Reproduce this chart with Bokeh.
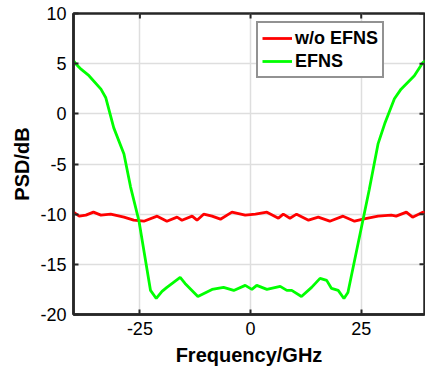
import math
from bokeh.plotting import figure
from bokeh.models import Legend, LegendItem, Range1d, FixedTicker
from bokeh.embed import file_html
from bokeh.resources import INLINE

# Data
freq_red = [-40, -38.7, -37.2, -35.5, -33.8, -31.6, -28.6, -26.4, -24.1, -21.1, -18.9,
            -16.6, -15.5, -13.2, -12.1, -10.6, -8.7, -6.8, -4.2, -1.2, 1.1, 3.7, 6.3,
            7.4, 8.9, 10.4, 13.1, 15.3, 17.9, 20.9, 23.5, 25.4, 28.8, 31.8, 32.9, 35.2,
            36.6, 38.9, 40]
psd_red = [-9.8, -10.2, -10.1, -9.8, -10.1, -10.0, -10.3, -10.6, -10.7, -10.2, -10.7,
           -10.3, -10.6, -10.2, -10.6, -10.0, -10.2, -10.5, -9.8, -10.1, -10.0, -9.8, -10.4,
           -10.0, -10.4, -10.0, -10.6, -10.3, -10.7, -10.2, -10.7, -10.5, -10.2, -10.1, -10.2, -9.8,
           -10.3, -9.8, -9.9]

freq_green = [-40, -39.5, -38.3, -36.5, -33.8, -32.7, -30.9, -28.6, -27.1, -25.2, -22.6,
              -21.3, -20.0, -18.9, -15.9, -14.8, -11.9, -8.7, -6.1, -3.8, -1.2, 0.3, 1.4,
              3.7, 6.7, 8.2, 9.3, 11.5, 13.8, 15.7, 17.2, 18.3, 19.8, 21.1, 22.0, 26.8,
              28.8, 30.3, 32.5, 34.0, 37.0, 38.9, 40]
psd_green = [5.3, 5.0, 4.45, 3.8, 2.46, 1.6, -1.4, -4.0, -7.3, -10.7, -17.6,
             -18.4, -17.7, -17.3, -16.3, -16.9, -18.2, -17.5, -17.3, -17.6, -17.1, -17.5, -17.1,
             -17.5, -17.2, -17.6, -17.6, -18.2, -17.3, -16.4, -16.6, -17.4, -17.6, -18.4, -17.8, -7.6,
             -3.0, -1.0, 1.5, 2.46, 3.8, 5.1, 5.4]

x_ticks = [-25, 0, 25]
y_ticks = [-20, -15, -10, -5, 0, 5, 10]
series_labels = ["w/o EFNS", "EFNS"]

FONT = "Liberation Sans"
AXC = "#262626"
X0, X1, Y0, Y1 = -40, 39.3, -20, 10

p = figure(width=425, height=379, output_backend="svg", toolbar_location=None,
           x_range=Range1d(X0, X1), y_range=Range1d(Y0, Y1),
           min_border_left=73, min_border_right=1, min_border_top=13, min_border_bottom=65)
p.outline_line_color = AXC
p.outline_line_width = 2.5
p.background_fill_color = "white"
p.border_fill_color = "white"

xt = FixedTicker(ticks=x_ticks)
yt = FixedTicker(ticks=y_ticks)

for ax in (p.xaxis[0], p.yaxis[0]):
    ax.axis_line_color = AXC
    ax.axis_line_width = 2.5
    ax.major_tick_line_color = AXC
    ax.major_tick_line_width = 2
    ax.major_tick_in = 5
    ax.major_tick_out = 0
    ax.minor_tick_line_color = None
    ax.major_label_text_font = FONT
    ax.major_label_text_font_size = "18px"
    ax.major_label_text_color = "black"
    ax.axis_label_text_font = FONT
    ax.axis_label_text_font_size = "20px"
    ax.axis_label_text_font_style = "bold"
    ax.axis_label_text_color = "black"

p.xaxis[0].ticker = xt
p.yaxis[0].ticker = yt
p.xaxis[0].major_label_overrides = {t: str(t) for t in x_ticks}
p.yaxis[0].major_label_overrides = {t: str(t) for t in y_ticks}
p.xaxis[0].axis_label = "Frequency/GHz"
p.yaxis[0].axis_label = "PSD/dB"
p.xaxis[0].major_label_standoff = 7
p.yaxis[0].major_label_standoff = 7
p.xaxis[0].axis_label_standoff = 6
p.yaxis[0].axis_label_standoff = 4

p.xgrid.ticker = xt
p.ygrid.ticker = yt
p.xgrid.grid_line_color = "#dedede"
p.ygrid.grid_line_color = "#dedede"
p.xgrid.grid_line_width = 1.5
p.ygrid.grid_line_width = 1.5

r1 = p.line(freq_red, psd_red, line_color="#ff0000", line_width=2.8)
r2 = p.line(freq_green, psd_green, line_color="#00ff00", line_width=2.8)

# inward tick marks on the top and right edges of the box (clipped half outside)
p.scatter(x=x_ticks, y=[Y1] * len(x_ticks), marker="dash", angle=math.pi / 2,
          size=10, line_color=AXC, line_width=2)
p.scatter(x=[X1] * len(y_ticks), y=y_ticks, marker="dash",
          size=10, line_color=AXC, line_width=2)

legend = Legend(items=[LegendItem(label=series_labels[0], renderers=[r1]),
                       LegendItem(label=series_labels[1], renderers=[r2])],
                location=(183, 236))
legend.border_line_color = AXC
legend.border_line_width = 2
legend.background_fill_color = "white"
legend.background_fill_alpha = 1
legend.label_text_font = FONT
legend.label_text_font_size = "18px"
legend.label_text_font_style = "bold"
legend.label_text_color = "black"
legend.glyph_width = 30
legend.glyph_height = 22
legend.label_height = 22
legend.label_standoff = 3
legend.spacing = 1
legend.padding = 4
legend.margin = 0
p.add_layout(legend)

open("out.html", "w").write(file_html(p, INLINE))
